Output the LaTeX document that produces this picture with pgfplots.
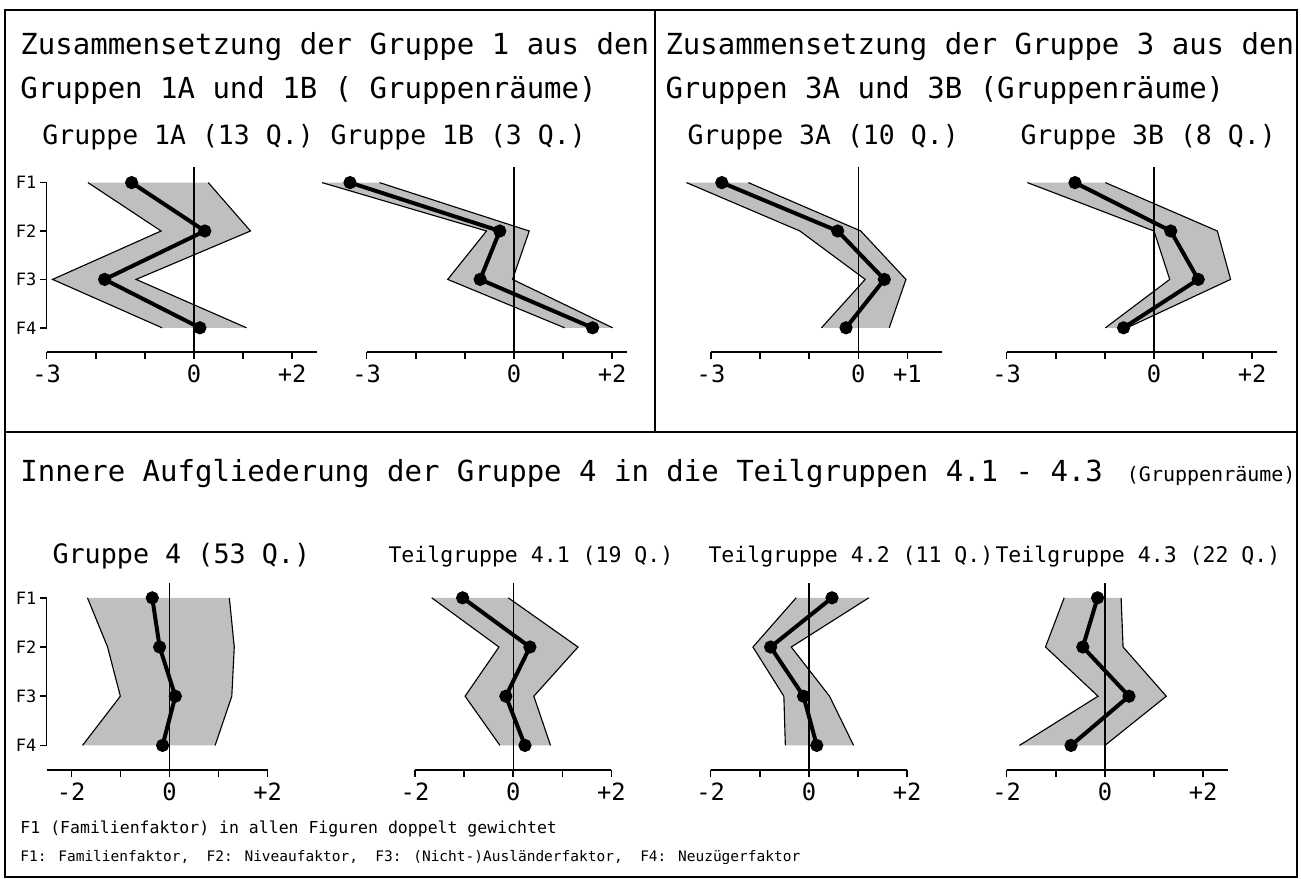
\documentclass[border=0pt]{standalone}
\usepackage{fontspec}
\setmainfont{DejaVu Sans Mono}
\usepackage{pgfplots}
\pgfplotsset{compat=1.18}

% F1..F4 are placed at y = -1..-4
\pgfplotsset{
  prof/.style={
    x=19.64pt, ymin=-4.5, clip=false, anchor=south west,
    axis x line*=bottom, axis y line=none,
    axis line style={line width=0.6pt,-},
    tick align=outside, major tick length=2.6pt,
    every tick/.style={line width=0.6pt, black},
    xticklabel style={font=\fontsize{9.5}{10}\selectfont, inner sep=1pt, yshift=-1.5pt},
  },
  toprow/.style={y=19.36pt, ymax=-0.67},
  botrow/.style={y=19.68pt, ymax=-0.7},
}

% band: left edge F1..F4, right edge F1..F4
\newcommand{\band}[8]{%
  \addplot[fill=black!25, draw=none] coordinates
    {(#1,-1) (#2,-2) (#3,-3) (#4,-4) (#8,-4) (#7,-3) (#6,-2) (#5,-1)};
  \addplot[line width=0.45pt] coordinates {(#1,-1) (#2,-2) (#3,-3) (#4,-4)};
  \addplot[line width=0.45pt] coordinates {(#5,-1) (#6,-2) (#7,-3) (#8,-4)};
}
% zero line (top end) and group profile F1..F4
\newcommand{\profile}[5]{%
  \addplot[line width=0.5pt] coordinates {(0,#1) (0,-4.5)};
  \addplot[line width=1.6pt, mark=*, mark size=1.8pt] coordinates
    {(#2,-1) (#3,-2) (#4,-3) (#5,-4)};
}
% factor axis F1..F4 at x = #1
\newcommand{\faxis}[1]{%
  \draw[line width=0.6pt] (axis cs:#1,-1) -- (axis cs:#1,-4);
  \pgfplotsinvokeforeach{1,...,4}{%
    \draw[line width=0.6pt] (axis cs:#1,-##1) -- ([xshift=-2.8pt]axis cs:#1,-##1)
      node[anchor=east, inner sep=1pt, font=\fontsize{6.8}{7}\selectfont] {F##1};
  }%
}

\begin{document}
\begin{tikzpicture}
\begin{scope}[x=0.4pt,y=-0.4pt]
  \path (0,0) rectangle (1301,879);
  \draw[line width=0.6pt] (5,10) rectangle (1297,877);
  \draw[line width=0.6pt] (5,432) -- (1297,432);
  \draw[line width=0.6pt] (655,10) -- (655,432);
  \begin{scope}[every node/.style={anchor=base west, inner sep=0pt}]
    \node[font=\fontsize{11.6}{13}\selectfont] at (20,55) {Zusammensetzung der Gruppe 1 aus den};
    \node[font=\fontsize{11.6}{13}\selectfont] at (20,99) {Gruppen 1A und 1B ( Gruppenräume)};
    \node[font=\fontsize{10.6}{12}\selectfont] at (42,145) {Gruppe 1A (13 Q.)};
    \node[font=\fontsize{10.6}{12}\selectfont] at (330,145) {Gruppe 1B (3 Q.)};
    \node[font=\fontsize{11.6}{13}\selectfont] at (665,55) {Zusammensetzung der Gruppe 3 aus den};
    \node[font=\fontsize{11.6}{13}\selectfont] at (665,99) {Gruppen 3A und 3B (Gruppenräume)};
    \node[font=\fontsize{10.6}{12}\selectfont] at (687,145) {Gruppe 3A (10 Q.)};
    \node[font=\fontsize{10.6}{12}\selectfont] at (1020,145) {Gruppe 3B (8 Q.)};
    \node[font=\fontsize{11.6}{13}\selectfont] at (20,481) {Innere Aufgliederung der Gruppe 4 in die Teilgruppen 4.1 - 4.3};
    \node[font=\fontsize{8}{9}\selectfont, anchor=base east] at (1296,481) {(Gruppenräume)};
    \node[font=\fontsize{10.7}{12}\selectfont] at (52,563) {Gruppe 4 (53 Q.)};
    \node[font=\fontsize{8.6}{10}\selectfont] at (388,562) {Teilgruppe 4.1 (19 Q.)};
    \node[font=\fontsize{8.6}{10}\selectfont] at (708,562) {Teilgruppe 4.2 (11 Q.)};
    \node[font=\fontsize{8.6}{10}\selectfont] at (995,562) {Teilgruppe 4.3 (22 Q.)};
    \node[font=\fontsize{6.6}{8}\selectfont] at (20,833) {F1 (Familienfaktor) in allen Figuren doppelt gewichtet};
    \node[font=\fontsize{5.8}{8}\selectfont] at (20,861) {F1: Familienfaktor,~ F2: Niveaufaktor,~ F3: (Nicht-)Ausländerfaktor,~ F4: Neuzügerfaktor};
  \end{scope}
\end{scope}

% top row
\begin{axis}[prof, toprow, at={(18.68pt,-140.8pt)}, xmin=-3, xmax=2.5,
  xtick={-3,...,2}, xticklabels={-3,,,0,,+2}]
  \band{-2.16}{-0.67}{-2.88}{-0.65}{0.29}{1.15}{-1.18}{1.07}
  \profile{-0.67}{-1.27}{0.22}{-1.82}{0.12}
  \faxis{-3}
\end{axis}
\begin{axis}[prof, toprow, at={(146.68pt,-140.8pt)}, xmin=-3, xmax=2.3,
  xtick={-3,...,2}, xticklabels={-3,,,0,,+2}]
  \band{-3.91}{-0.56}{-1.35}{1.03}{-2.74}{0.31}{-0.03}{2.01}
  \profile{-0.67}{-3.34}{-0.29}{-0.69}{1.60}
\end{axis}
\begin{axis}[prof, toprow, at={(284.4pt,-140.8pt)}, xmin=-3, xmax=1.7,
  xtick={-3,...,1}, xticklabels={-3,,,0,+1}]
  \band{-3.50}{-1.19}{0.14}{-0.75}{-2.24}{0.05}{0.97}{0.63}
  \profile{-0.67}{-2.78}{-0.42}{0.53}{-0.25}
\end{axis}
\begin{axis}[prof, toprow, at={(402.68pt,-140.8pt)}, xmin=-3, xmax=2.5,
  xtick={-3,...,2}, xticklabels={-3,,,0,,+2}]
  \band{-2.58}{0.00}{0.32}{-0.99}{-0.99}{1.29}{1.56}{-0.55}
  \profile{-0.67}{-1.61}{0.34}{0.90}{-0.62}
\end{axis}

% bottom row
\begin{axis}[prof, botrow, at={(18.68pt,-308pt)}, xmin=-2.5, xmax=2,
  xtick={-2,...,2}, xticklabels={-2,,0,,+2}]
  \band{-1.67}{-1.26}{-1.00}{-1.77}{1.22}{1.32}{1.27}{0.93}
  \profile{-0.7}{-0.35}{-0.20}{0.12}{-0.14}
  \faxis{-2.5}
\end{axis}
\begin{axis}[prof, botrow, at={(166pt,-308pt)}, xmin=-2, xmax=2,
  xtick={-2,...,2}, xticklabels={-2,,0,,+2}]
  \band{-1.66}{-0.29}{-0.98}{-0.27}{-0.10}{1.32}{0.42}{0.76}
  \profile{-0.7}{-1.03}{0.34}{-0.15}{0.24}
\end{axis}
\begin{axis}[prof, botrow, at={(284.28pt,-308pt)}, xmin=-2, xmax=2,
  xtick={-2,...,2}, xticklabels={-2,,0,,+2}]
  \band{-0.26}{-1.14}{-0.51}{-0.48}{1.22}{-0.36}{0.42}{0.91}
  \profile{-0.7}{0.47}{-0.78}{-0.11}{0.16}
\end{axis}
\begin{axis}[prof, botrow, at={(402.68pt,-308pt)}, xmin=-2, xmax=2.5,
  xtick={-2,...,2}, xticklabels={-2,,0,,+2}]
  \band{-0.83}{-1.21}{-0.14}{-1.74}{0.33}{0.37}{1.25}{0.00}
  \profile{-0.7}{-0.15}{-0.45}{0.49}{-0.69}
\end{axis}
\end{tikzpicture}
\end{document}
